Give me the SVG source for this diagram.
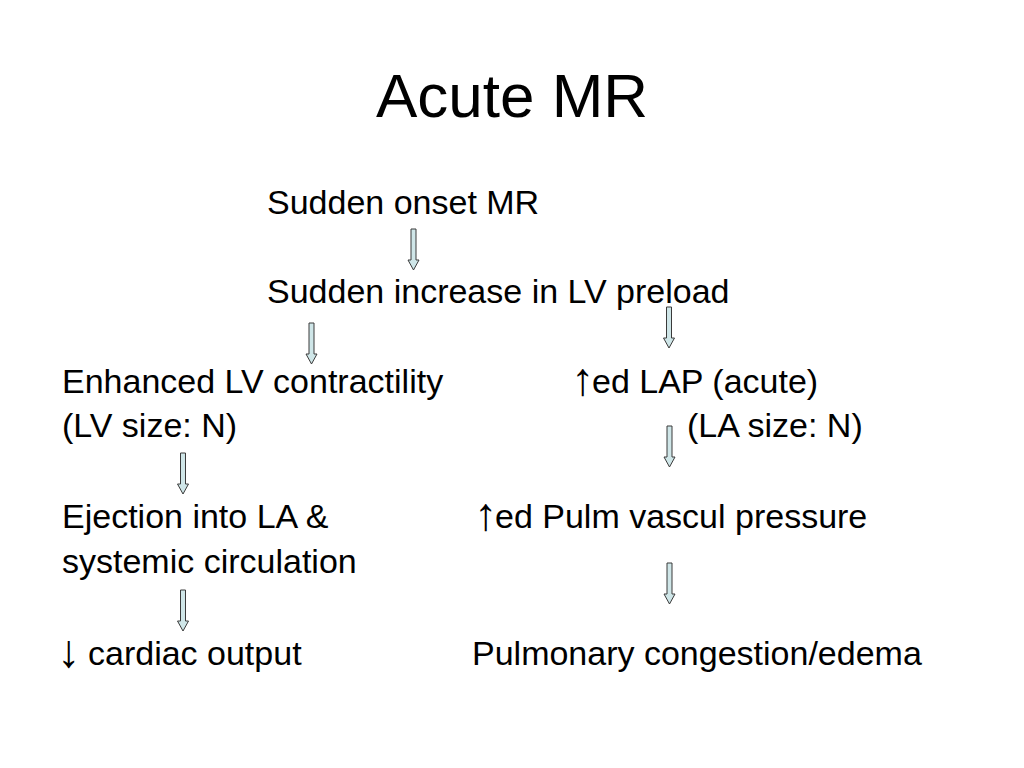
<svg xmlns="http://www.w3.org/2000/svg" xmlns:xlink="http://www.w3.org/1999/xlink" width="1024" height="768" viewBox="0 0 1024 768">
<style>
.t{font-family:"Liberation Sans",Arial,sans-serif;font-size:34px;fill:#000}
.title{font-family:"Liberation Sans",Arial,sans-serif;font-size:62px;fill:#000;text-anchor:middle}
.sym{font-size:46px}
.arr{fill:#cfe6e8;stroke:#3a3a3a;stroke-width:1}
</style>
<defs>
<path id="dn" class="arr" d="M-2.5,0 H2.5 V31 H5.5 L0,41 L-5.5,31 H-2.5 Z"/>
</defs>
<rect width="1024" height="768" fill="#fff"/>
<text class="title" x="512" y="117">Acute MR</text>
<g id="n1"><text class="t" x="267" y="214">Sudden onset MR</text></g>
<g id="n2"><text class="t" x="267" y="303">Sudden increase in LV preload</text></g>
<g id="n3"><text class="t" x="62" y="393">Enhanced LV contractility</text><text class="t" x="62" y="437">(LV size: N)</text></g>
<g id="n4"><text class="t" x="571" y="395"><tspan class="sym">↑</tspan><tspan x="592" y="393">ed LAP (acute)</tspan></text><text class="t" x="687" y="437">(LA size: N)</text></g>
<g id="n5"><text class="t" x="62" y="528">Ejection into LA &amp;</text><text class="t" x="62" y="573">systemic circulation</text></g>
<g id="n6"><text class="t" x="474" y="530"><tspan class="sym">↑</tspan><tspan x="495" y="528">ed Pulm vascul pressure</tspan></text></g>
<g id="n7"><text class="t" x="57" y="667"><tspan class="sym">↓</tspan><tspan x="88" y="665">cardiac output</tspan></text></g>
<g id="n8"><text class="t" x="472" y="665">Pulmonary congestion/edema</text></g>
<g id="connectors">
<use href="#dn" xlink:href="#dn" x="413.5" y="229"/>
<use href="#dn" xlink:href="#dn" x="311.5" y="323"/>
<use href="#dn" xlink:href="#dn" x="669" y="307"/>
<use href="#dn" xlink:href="#dn" x="669.5" y="426"/>
<use href="#dn" xlink:href="#dn" x="183" y="453"/>
<use href="#dn" xlink:href="#dn" x="669.5" y="563"/>
<use href="#dn" xlink:href="#dn" x="183" y="590"/>
</g>
</svg>
